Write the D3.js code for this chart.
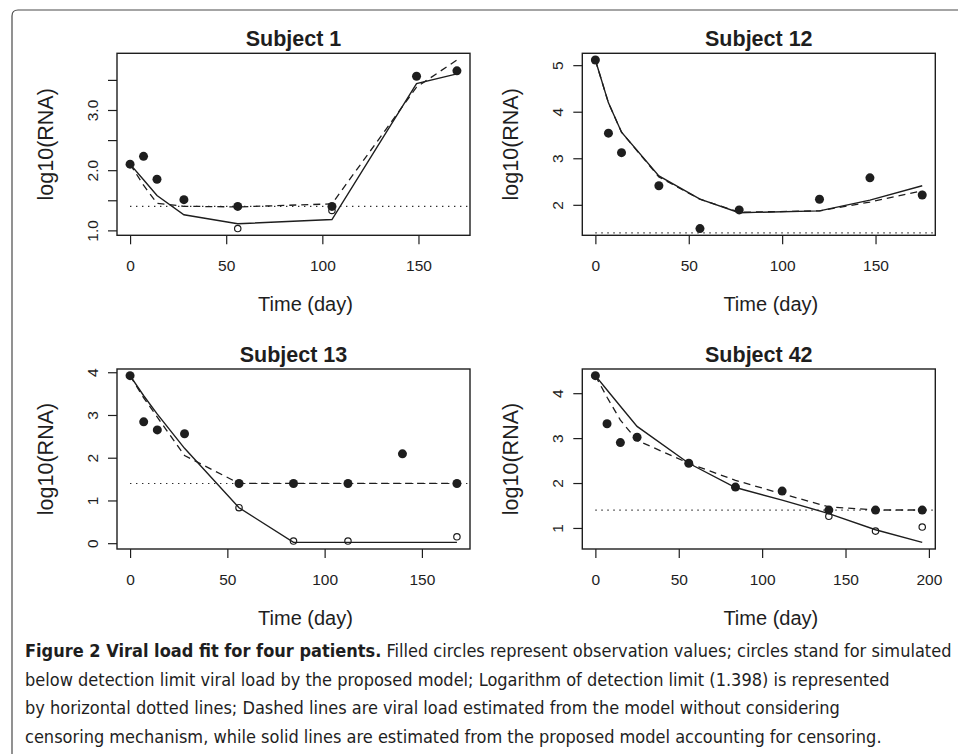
<!DOCTYPE html>
<html>
<head>
<meta charset="utf-8">
<script src="https://cdn.jsdelivr.net/npm/d3@7"></script>
<style>
    body { margin: 0; background: #fff; }
    svg text { font-family: "Liberation Sans", Arial, Helvetica, sans-serif; fill: #1e1e1e; }
    .caption text { font-family: "Liberation Sans Narrow", "DejaVu Sans Condensed", "Liberation Sans", sans-serif; }
</style>
</head>
<body>
<svg id="fig" width="958" height="754"></svg>
<script>
// ====================================
// Données
// ====================================
const DETECTION_LIMIT = 1.398;
const subjects = ["Subject 1", "Subject 12", "Subject 13", "Subject 42"];

// Subject 1
const days1 = [0, 7, 14, 28, 56, 105, 149, 170];
const obs1 = [2.10, 2.23, 1.85, 1.51, 1.398, 1.398, 3.56, 3.65];
const fitCens1 = [2.10, 1.84, 1.58, 1.26, 1.11, 1.18, 3.44, 3.60];
const fitNaive1 = [2.10, 1.75, 1.45, 1.40, 1.39, 1.44, 3.38, 3.83];
const simDays1 = [56, 105];
const sim1 = [1.03, 1.33];
const xTicks1 = [0, 50, 100, 150];
const yTicks1 = [1, 1.5, 2, 2.5, 3, 3.5];
const yLabels1 = [1, 2, 3];

// Subject 12
const days12 = [0, 7, 14, 34, 56, 77, 120, 147, 175];
const obs12 = [5.11, 3.54, 3.12, 2.41, 1.49, 1.89, 2.12, 2.58, 2.21];
const fitCens12 = [5.11, 4.19, 3.56, 2.62, 2.12, 1.83, 1.87, 2.10, 2.41];
const fitNaive12 = [5.11, 4.19, 3.56, 2.60, 2.12, 1.84, 1.87, 2.06, 2.30];
const simDays12 = [];
const sim12 = [];
const xTicks12 = [0, 50, 100, 150];
const yTicks12 = [2, 3, 4, 5];
const yLabels12 = [2, 3, 4, 5];

// Subject 13
const days13 = [0, 7, 14, 28, 56, 84, 112, 140, 168];
const obs13 = [3.92, 2.84, 2.65, 2.56, 1.398, 1.398, 1.398, 2.09, 1.398];
const fitDays13 = [0, 7, 14, 28, 56, 84, 112, 168];
const fitCens13 = [3.92, 3.45, 3.02, 2.22, 0.83, 0.02, 0.02, 0.02];
const fitNaive13 = [3.92, 3.40, 2.95, 2.05, 1.40, 1.398, 1.398, 1.398];
const simDays13 = [56, 84, 112, 168];
const sim13 = [0.83, 0.05, 0.05, 0.15];
const xTicks13 = [0, 50, 100, 150];
const yTicks13 = [0, 1, 2, 3, 4];
const yLabels13 = [0, 1, 2, 3, 4];

// Subject 42
const days42 = [0, 7, 15, 25, 56, 84, 112, 140, 168, 196];
const obs42 = [4.39, 3.32, 2.90, 3.02, 2.44, 1.91, 1.82, 1.398, 1.398, 1.398];
const fitCens42 = [4.39, 4.07, 3.71, 3.26, 2.44, 1.90, 1.62, 1.32, 0.96, 0.68];
const fitNaive42 = [4.39, 3.91, 3.40, 2.95, 2.44, 2.06, 1.76, 1.47, 1.40, 1.40];
const simDays42 = [140, 168, 196];
const sim42 = [1.26, 0.93, 1.02];
const xTicks42 = [0, 50, 100, 150, 200];
const yTicks42 = [1, 2, 3, 4];
const yLabels42 = [1, 2, 3, 4];

const captionBold = "Figure 2 Viral load fit for four patients.";
const captionLines = [
    " Filled circles represent observation values; circles stand for simulated",
    "below detection limit viral load by the proposed model; Logarithm of detection limit (1.398) is represented",
    "by horizontal dotted lines; Dashed lines are viral load estimated from the model without considering",
    "censoring mechanism, while solid lines are estimated from the proposed model accounting for censoring."
];

// ====================================
// Mise en page
// ====================================
const boxWidth = 353;
const colLeft = [117, 582.3];
const rowTop = [53.3, 369];
const boxHeight = [182, 180];
const ink = "#1e1e1e";

const panels = [
    { title: subjects[0], days: days1, fitDays: days1, obs: obs1, cens: fitCens1, naive: fitNaive1,
      simDays: simDays1, sim: sim1, xTicks: xTicks1, yTicks: yTicks1, yLabels: yLabels1, col: 0, row: 0, fmt: ".1f" },
    { title: subjects[1], days: days12, fitDays: days12, obs: obs12, cens: fitCens12, naive: fitNaive12,
      simDays: simDays12, sim: sim12, xTicks: xTicks12, yTicks: yTicks12, yLabels: yLabels12, col: 1, row: 0, fmt: "d" },
    { title: subjects[2], days: days13, fitDays: fitDays13, obs: obs13, cens: fitCens13, naive: fitNaive13,
      simDays: simDays13, sim: sim13, xTicks: xTicks13, yTicks: yTicks13, yLabels: yLabels13, col: 0, row: 1, fmt: "d" },
    { title: subjects[3], days: days42, fitDays: days42, obs: obs42, cens: fitCens42, naive: fitNaive42,
      simDays: simDays42, sim: sim42, xTicks: xTicks42, yTicks: yTicks42, yLabels: yLabels42, col: 1, row: 1, fmt: "d" }
];

const svg = d3.select("#fig");

// cadre de la figure (coin arrondi en haut à gauche)
svg.append("path")
    .attr("d", "M12,760 L12,16 Q12,10 18,10 L962,10")
    .attr("fill", "none")
    .attr("stroke", "#4a4a4a")
    .attr("stroke-width", 1.2);

/**
 * Étend un domaine de 4% de chaque côté (comme R)
 */
function padExtent(ext) {
    const span = ext[1] - ext[0];
    return [ext[0] - 0.04 * span, ext[1] + 0.04 * span];
}

/**
 * Dessine un panneau
 */
function drawPanel(p, i) {
    const left = colLeft[p.col];
    const top = rowTop[p.row];
    const h = boxHeight[p.row];
    const g = svg.append("g").attr("transform", `translate(${left},${top})`);

    const allY = p.obs.concat(p.cens, p.naive, p.sim);
    const x = d3.scaleLinear().domain(padExtent(d3.extent(p.days))).range([0, boxWidth]);
    const y = d3.scaleLinear().domain(padExtent(d3.extent(allY))).range([h, 0]);

    g.append("clipPath").attr("id", "clip" + i)
        .append("rect").attr("width", boxWidth).attr("height", h);

    const plot = g.append("g").attr("clip-path", `url(#clip${i})`);

    // ligne de détection (pointillés)
    plot.append("line")
        .attr("x1", x(0)).attr("x2", x(x.domain()[1]))
        .attr("y1", y(DETECTION_LIMIT)).attr("y2", y(DETECTION_LIMIT))
        .attr("stroke", ink).attr("stroke-width", 1.1)
        .attr("stroke-dasharray", "1.3,4.7");

    const line = d3.line().x(d => x(d[0])).y(d => y(d[1]));

    plot.append("path")
        .datum(d3.zip(p.fitDays, p.naive))
        .attr("d", line)
        .attr("fill", "none").attr("stroke", ink).attr("stroke-width", 1.3)
        .attr("stroke-dasharray", "7,5");

    plot.append("path")
        .datum(d3.zip(p.fitDays, p.cens))
        .attr("d", line)
        .attr("fill", "none").attr("stroke", ink).attr("stroke-width", 1.4);

    // valeurs simulées (cercles vides)
    plot.selectAll("circle.sim")
        .data(d3.zip(p.simDays, p.sim))
        .join("circle")
        .attr("class", "sim")
        .attr("cx", d => x(d[0])).attr("cy", d => y(d[1]))
        .attr("r", 3.2)
        .attr("fill", "none").attr("stroke", ink).attr("stroke-width", 1.2);

    // observations (cercles pleins)
    plot.selectAll("circle.obs")
        .data(d3.zip(p.days, p.obs))
        .join("circle")
        .attr("class", "obs")
        .attr("cx", d => x(d[0])).attr("cy", d => y(d[1]))
        .attr("r", 4.5)
        .attr("fill", ink);

    // axes
    const xAxis = g.append("g")
        .attr("transform", `translate(0,${h})`)
        .call(d3.axisBottom(x).tickValues(p.xTicks).tickSize(9).tickFormat(d3.format("d")));
    xAxis.select(".domain").remove();
    xAxis.selectAll("line").attr("stroke", ink).attr("stroke-width", 1.2);
    xAxis.selectAll("text")
        .attr("y", 36).attr("dy", null)
        .style("font-size", "15.5px").attr("fill", ink);

    const fmt = d3.format(p.fmt);
    const yAxis = g.append("g")
        .call(d3.axisLeft(y).tickValues(p.yTicks).tickSize(9)
            .tickFormat(d => p.yLabels.includes(d) ? fmt(d) : ""));
    yAxis.select(".domain").remove();
    yAxis.selectAll("line").attr("stroke", ink).attr("stroke-width", 1.2);
    yAxis.selectAll("text")
        .attr("x", null).attr("dy", null)
        .attr("text-anchor", "middle")
        .attr("transform", "translate(-19.5,0) rotate(-90)")
        .style("font-size", "15.5px").attr("fill", ink);

    // cadre du panneau
    g.append("rect")
        .attr("width", boxWidth).attr("height", h)
        .attr("fill", "none").attr("stroke", ink).attr("stroke-width", 1.4);

    // titres
    g.append("text")
        .attr("x", boxWidth / 2).attr("y", -7.5)
        .attr("text-anchor", "middle")
        .style("font-size", "21.5px").style("font-weight", "bold")
        .text(p.title);

    g.append("text")
        .attr("x", boxWidth / 2 + 12).attr("y", h + 75.5)
        .attr("text-anchor", "middle")
        .style("font-size", "20px")
        .text("Time (day)");

    g.append("text")
        .attr("transform", `translate(-64,${h / 2}) rotate(-90)`)
        .attr("text-anchor", "middle")
        .style("font-size", "21.5px")
        .text("log10(RNA)");
}

panels.forEach(drawPanel);

// ====================================
// Légende de la figure
// ====================================
const caption = svg.append("g").attr("class", "caption");
const first = caption.append("text")
    .attr("x", 25).attr("y", 657)
    .style("font-size", "18px");
first.append("tspan").style("font-weight", "bold").text(captionBold);
first.append("tspan").text(captionLines[0]);

captionLines.slice(1).forEach((t, k) => {
    caption.append("text")
        .attr("x", 25).attr("y", 685.5 + k * 28.5)
        .style("font-size", "18px")
        .text(t);
});
</script>
</body>
</html>
